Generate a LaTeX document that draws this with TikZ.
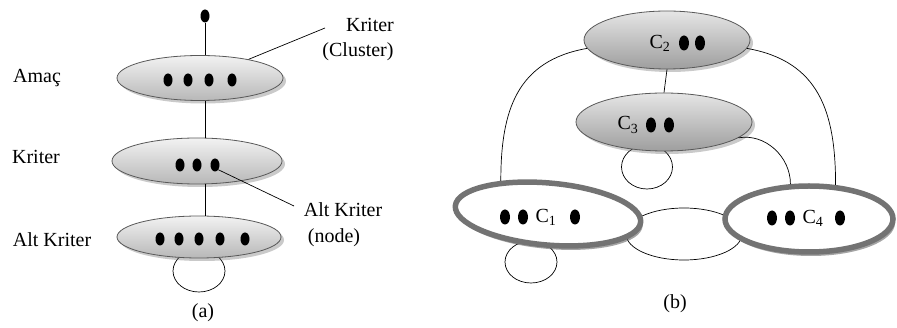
\documentclass[tikz,border=0pt]{standalone}
\usepackage{fontspec}
\setmainfont{Liberation Serif}
\usetikzlibrary{shapes.geometric,shadows}
\begin{document}
\begin{tikzpicture}[x=1pt,y=1pt,
  font=\fontsize{20}{24}\selectfont,
  every node/.style={inner sep=0pt},
  cl/.style={ellipse,draw=black!65,line width=0.8pt,top color=white!95!black,bottom color=black!28,
    drop shadow={shadow xshift=3pt,shadow yshift=-3pt,opacity=.35,fill=black!60}},
  cld/.style={ellipse,draw=black!65,line width=0.8pt,top color=black!10,bottom color=black!38,
    drop shadow={shadow xshift=3pt,shadow yshift=-3pt,opacity=.35,fill=black!60}},
  clw/.style={ellipse,draw=black!55,line width=5.5pt,fill=white,
    drop shadow={shadow xshift=2pt,shadow yshift=-4pt,opacity=.55,fill=black!65}},
  lp/.style={ellipse,draw=black,line width=0.7pt,fill=white},
  dotA/.style={ellipse,fill=black,minimum width=9pt,minimum height=13pt},
  dotB/.style={ellipse,fill=black,minimum width=10pt,minimum height=15pt},
  edge/.style={draw=black,line width=0.7pt}]
\path[use as bounding box] (0,0) rectangle (897,-328);

% ---------- panel (a)
\node[dotA] (top) at (205,-16) {};
\node[lp,minimum width=52pt,minimum height=42pt] (aloop) at (199,-271) {};
\node[cl,minimum width=166pt,minimum height=45pt] (amac) at (200,-78) {};
\node[cl,minimum width=170pt,minimum height=46pt] (krit) at (197,-161) {};
\node[cl,minimum width=164pt,minimum height=42pt] (alt) at (199,-237) {};
\draw[edge] (top) -- (amac.north -| top);
\draw[edge] (amac.south -| top) -- (krit.north -| top);
\draw[edge] (krit.south -| top) -- (alt.north -| top);

\foreach \x [count=\i] in {168,188,209,232} \node[dotA] (ad\i) at (\x,-80) {};
\foreach \x [count=\i] in {180,197,215} \node[dotA] (kd\i) at (\x,-165) {};
\foreach \x [count=\i] in {160,179,199,220,245} \node[dotA] (ld\i) at (\x,-239) {};

\node (tAmac) at (37,-78) {Amaç};
\node (tKrit) at (36,-157) {Kriter};
\node (tAlt) at (52,-240) {Alt Kriter};
\node (tKc) at (370,-25) {Kriter};
\node (tCl) at (358,-52) {(Cluster)};
\node (tAk) at (343,-210) {Alt Kriter};
\node (tNo) at (334,-238) {(node)};
\node (ta) at (203,-313) {(a)};
\coordinate (clEnd) at (325,-28);
\coordinate (noEnd) at (294,-206);
\draw[edge] (amac.21) -- (clEnd);
\draw[edge] (kd3.south east) -- (noEnd);

% ---------- panel (b)
\node[lp,minimum width=116pt,minimum height=52pt] (link) at (684,-234) {};
\node[lp,minimum width=51pt,minimum height=44pt] (c3loop) at (647,-167) {};
\node[lp,minimum width=52pt,minimum height=42pt] (c1loop) at (531,-262) {};
\node[cld,minimum width=166pt,minimum height=58pt] (C2) at (667,-40) {};
\node[cld,minimum width=176pt,minimum height=58pt] (C3) at (664,-122) {};
\draw[edge] (C2.south) -- (C3.north);
\node[clw,minimum width=186pt,minimum height=62pt,rotate=-5] (C1) at (548,-214) {};
\node[clw,minimum width=168pt,minimum height=66pt] (C4) at (809,-219) {};
\draw[edge] (C2.186) to[out=190,in=90,looseness=1.15] (C1.150);
\draw[edge] (C2.354) to[out=-10,in=90,looseness=1.15] (C4.52);
\draw[edge] (C3.348) to[out=10,in=90] (C4.118);

\node (tC2) at (660,-43) {C\textsubscript{2}};
\node[dotB] (c2d1) at (684,-43) {};
\node[dotB] (c2d2) at (700,-43) {};
\node (tC3) at (628,-125) {C\textsubscript{3}};
\node[dotB] (c3d1) at (651,-125) {};
\node[dotB] (c3d2) at (669,-125) {};
\node[dotB] (c1d1) at (505,-217) {};
\node[dotB] (c1d2) at (523,-217) {};
\node (tC1) at (546,-217) {C\textsubscript{1}};
\node[dotB] (c1d3) at (575,-217) {};
\node[dotB] (c4d1) at (772,-218) {};
\node[dotB] (c4d2) at (790,-218) {};
\node (tC4) at (813,-218) {C\textsubscript{4}};
\node[dotB] (c4d3) at (840,-218) {};
\node (tb) at (675,-304) {(b)};
\end{tikzpicture}
\end{document}
